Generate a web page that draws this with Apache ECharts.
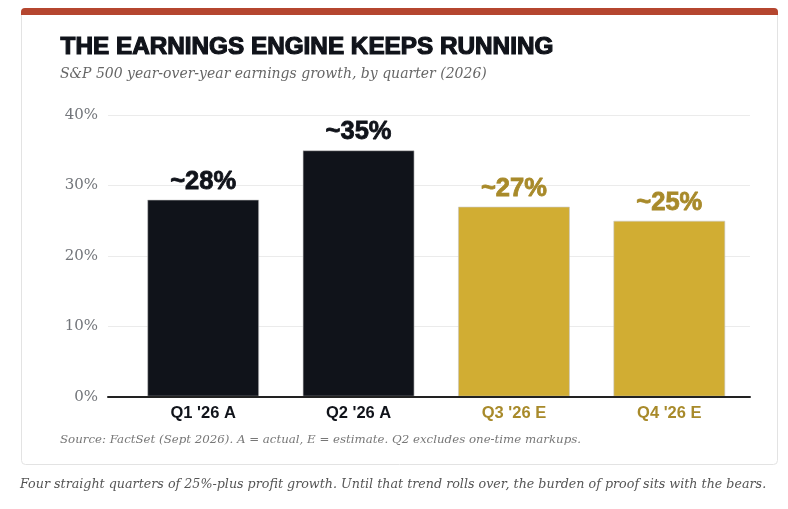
<!DOCTYPE html>
<html>
<head>
<meta charset="utf-8">
<script src="https://cdn.jsdelivr.net/npm/echarts@6/dist/echarts.min.js"></script>
<style>
html,body{margin:0;padding:0;background:#fff;}
#chart{width:788px;height:509px;}
</style>
</head>
<body>
<div id="chart"></div>
<script>
// ---- data ----
const categories = ["Q1 '26 A", "Q2 '26 A", "Q3 '26 E", "Q4 '26 E"];
const growth = [28, 35, 27, 25];
const valueLabels = ["~28%", "~35%", "~27%", "~25%"];
const status = ["A", "A", "E", "E"];
const yTicks = [0, 10, 20, 30, 40];

const titleText = "THE EARNINGS ENGINE KEEPS RUNNING";
const subtitleText = "S&P 500 year-over-year earnings growth, by quarter (2026)";
const sourceText = "Source: FactSet (Sept 2026). A = actual, E = estimate. Q2 excludes one-time markups.";
const captionText = "Four straight quarters of 25%-plus profit growth. Until that trend rolls over, the burden of proof sits with the bears.";

// ---- styles ----
const barColor = { A: "#10131a", E: "#d1ad33" };
const labelColor = { A: "#10131a", E: "#a88a2a" };
const serif = "'DejaVu Serif', Georgia, serif";
const sans = "'Liberation Sans', Arial, Helvetica, sans-serif";

const chart = echarts.init(document.getElementById('chart'), null, { renderer: 'canvas' });

const gridTop = 115, gridBottom = 509 - 396.7;

const option = {
  animation: false,
  backgroundColor: '#ffffff',
  graphic: [
    { type: 'rect', z: -10, shape: { x: 21.5, y: 8.5, width: 756, height: 456, r: 4 },
      style: { fill: '#ffffff', stroke: '#e3e3e3', lineWidth: 1 } },
    { type: 'rect', z: -9, shape: { x: 21, y: 8, width: 757, height: 7, r: [4, 4, 0, 0] },
      style: { fill: '#b5462f' } },
    { type: 'text', left: 60, top: 35, z: 10,
      style: { text: titleText, font: "bold 24.3px " + sans, fill: '#10131a',
               stroke: '#10131a', lineWidth: 1.2 } },
    { type: 'text', left: 60, top: 67, z: 10,
      style: { text: subtitleText, font: "italic 14px " + serif, fill: '#666666' } },
    { type: 'text', left: 60, top: 434, z: 10,
      style: { text: sourceText, font: "italic 11.8px " + serif, fill: '#777777' } },
    { type: 'text', left: 20, top: 478, z: 10,
      style: { text: captionText, font: "italic 12.7px " + serif, fill: '#555555' } }
  ],
  grid: [
    { left: 108, right: 38, top: gridTop, bottom: gridBottom },
    { left: 125.5, right: 41, top: gridTop, bottom: gridBottom }
  ],
  xAxis: [
    { type: 'category', gridIndex: 0, data: categories,
      axisLine: { show: true, lineStyle: { color: '#222222', width: 2 } },
      axisTick: { show: false }, axisLabel: { show: false }, splitLine: { show: false }, z: 5 },
    { type: 'category', gridIndex: 1, data: categories,
      axisLine: { show: false }, axisTick: { show: false },
      axisLabel: { margin: 8, fontFamily: sans, fontWeight: 'bold', fontSize: 16.5,
        color: function (v, i) { return labelColor[status[i]]; } } }
  ],
  yAxis: [
    { type: 'value', gridIndex: 0, min: yTicks[0], max: yTicks[yTicks.length - 1], interval: 10,
      axisLine: { show: false }, axisTick: { show: false },
      axisLabel: { formatter: '{value}%', margin: 10, fontFamily: serif, fontSize: 15, color: '#72757a' },
      splitLine: { lineStyle: { color: '#ebebeb', width: 1 } } },
    { type: 'value', gridIndex: 1, min: yTicks[0], max: yTicks[yTicks.length - 1],
      show: false, splitLine: { show: false } }
  ],
  series: [{
    type: 'bar', xAxisIndex: 1, yAxisIndex: 1, barWidth: 112, z: 3,
    data: growth.map(function (v, i) {
      return {
        value: v,
        itemStyle: { color: barColor[status[i]], borderColor: 'rgba(200,200,200,0.6)', borderWidth: 1 },
        label: { color: labelColor[status[i]], textBorderColor: labelColor[status[i]] }
      };
    }),
    label: {
      show: true, position: 'top', distance: 5,
      fontFamily: sans, fontWeight: 'bold', fontSize: 25.5, textBorderWidth: 0.8,
      formatter: function (p) { return valueLabels[p.dataIndex]; }
    }
  }]
};
chart.setOption(option);
</script>
</body>
</html>
